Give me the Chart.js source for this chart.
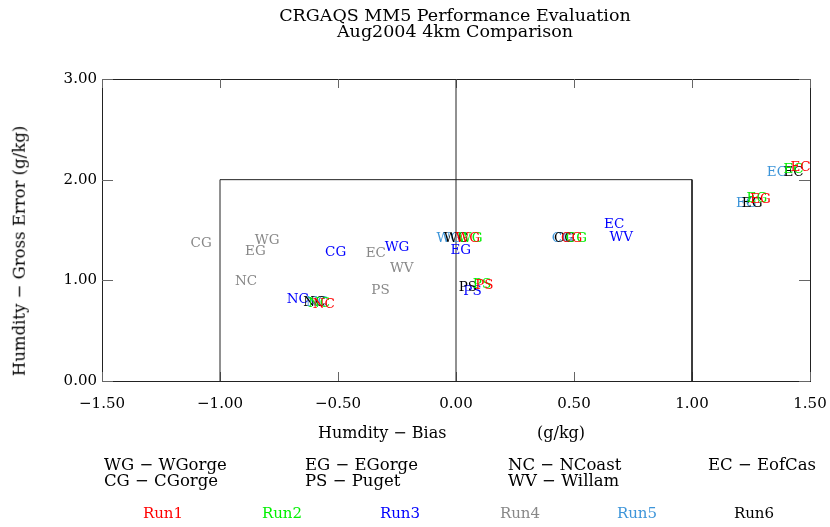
<!DOCTYPE html>
<html>
<head>
<meta charset="utf-8">
<script src="https://cdn.jsdelivr.net/npm/chart.js@4.4.1/dist/chart.umd.min.js"></script>
<style>
body { margin: 0; background: #fff; }
#wrap { position: relative; width: 830px; height: 527px; font-family: "DejaVu Serif", serif; color: #000; }
#chart { position: absolute; left: 0; top: 0; }
.t { position: absolute; white-space: pre; line-height: 1; }
</style>
</head>
<body>
<div id="wrap">
	<canvas id="chart" width="830" height="527"></canvas>
	<div class="t" id="title" style="left:0;width:910px;top:7px;text-align:center;font-size:17.5px;line-height:16px;">CRGAQS MM5 Performance Evaluation
Aug2004 4km Comparison</div>
	<div class="t" style="left:318px;top:425px;font-size:16px;">Humdity − Bias</div>
	<div class="t" style="left:537px;top:425px;font-size:16px;">(g/kg)</div>
	<div class="t" style="left:20px;top:251px;font-size:16.5px;transform:translate(-50%,-50%) rotate(-90deg);">Humdity − Gross Error (g/kg)</div>
	<div id="siteLegend"></div>
	<div id="runLegend"></div>
</div>
<script>
// site abbreviations used as markers
var siteCodes = ["WG", "EG", "NC", "EC", "CG", "PS", "WV"];
var siteNames = ["WGorge", "EGorge", "NCoast", "EofCas", "CGorge", "Puget", "Willam"];

var runNames = ["Run1", "Run2", "Run3", "Run4", "Run5", "Run6"];
var runColors = ["#ff0000", "#00f000", "#0000ff", "#888888", "#3d95d9", "#000000"];

// bias (x) and gross error (y) per run, in g/kg
var run1Sites = ["WG", "NC", "PS", "CG", "EG", "EC"];
var run1Bias  = [0.05, -0.56, 0.12, 0.49, 1.29, 1.46];
var run1Error = [1.42, 0.76, 0.95, 1.42, 1.80, 2.12];

var run2Sites = ["WG", "NC", "PS", "CG", "EG", "EC"];
var run2Bias  = [0.06, -0.58, 0.11, 0.51, 1.275, 1.43];
var run2Error = [1.42, 0.77, 0.96, 1.42, 1.81, 2.10];

var run3Sites = ["CG", "WG", "NC", "EG", "PS", "EC", "WV"];
var run3Bias  = [-0.51, -0.25, -0.67, 0.02, 0.07, 0.67, 0.70];
var run3Error = [1.28, 1.33, 0.81, 1.30, 0.89, 1.55, 1.43];

var run4Sites = ["CG", "WG", "EG", "NC", "EC", "WV", "PS"];
var run4Bias  = [-1.08, -0.80, -0.85, -0.89, -0.34, -0.23, -0.32];
var run4Error = [1.37, 1.40, 1.29, 0.99, 1.27, 1.12, 0.90];

var run5Sites = ["WG", "NC", "CG", "EG", "EC"];
var run5Bias  = [-0.03, -0.59, 0.45, 1.23, 1.36];
var run5Error = [1.42, 0.78, 1.42, 1.76, 2.07];

var run6Sites = ["WG", "NC", "PS", "CG", "EG", "EC"];
var run6Bias  = [0.00, -0.60, 0.05, 0.46, 1.255, 1.43];
var run6Error = [1.42, 0.78, 0.93, 1.42, 1.76, 2.07];

// reference lines: zero bias line and the +-1 / 2 g/kg goal box
var zeroLineX = [0, 0];
var zeroLineY = [0, 3];
var goalBoxX = [-1, -1, 1, 1];
var goalBoxY = [0, 2, 2, 0];

var xTicks = [-1.5, -1.0, -0.5, 0.0, 0.5, 1.0, 1.5];
var yTicks = [0, 1, 2, 3];

function toPoints(xs, ys) {
	var pts = [];
	for (var i = 0; i < xs.length; i++) {
		pts.push({x: xs[i], y: ys[i]});
	}
	return pts;
}

function fmt(v) {
	return v.toFixed(2).replace("-", "\u2212");
}

var allSites = [run1Sites, run2Sites, run3Sites, run4Sites, run5Sites, run6Sites];
var allBias = [run1Bias, run2Bias, run3Bias, run4Bias, run5Bias, run6Bias];
var allError = [run1Error, run2Error, run3Error, run4Error, run5Error, run6Error];

var datasets = [
	{label: "zero", data: toPoints(zeroLineX, zeroLineY), showLine: true, borderColor: "#222", borderWidth: 1, pointRadius: 0, fill: false},
	{label: "goal", data: toPoints(goalBoxX, goalBoxY), showLine: true, borderColor: "#222", borderWidth: 1, pointRadius: 0, fill: false}
];
// draw order: gray and blue underneath, red last (on top)
var drawOrder = [3, 2, 4, 5, 1, 0];
for (var k = 0; k < drawOrder.length; k++) {
	var r = drawOrder[k];
	datasets.push({
		label: runNames[r],
		data: toPoints(allBias[r], allError[r]),
		sites: allSites[r],
		textColor: runColors[r],
		pointRadius: 0,
		pointHoverRadius: 0
	});
}

var siteLabels = {
	id: "siteLabels",
	afterDatasetsDraw: function(chart) {
		var ctx = chart.ctx;
		ctx.save();
		ctx.font = '13.5px "DejaVu Serif"';
		ctx.textAlign = "center";
		ctx.textBaseline = "middle";
		chart.data.datasets.forEach(function(ds, i) {
			if (!ds.sites) return;
			ctx.fillStyle = ds.textColor;
			chart.getDatasetMeta(i).data.forEach(function(pt, j) {
				ctx.fillText(ds.sites[j], pt.x, pt.y);
			});
		});
		ctx.restore();
	}
};

var frame = {
	id: "frame",
	beforeDatasetsDraw: function(chart) {
		var a = chart.chartArea, ctx = chart.ctx;
		var xs = chart.scales.x, ys = chart.scales.y;
		ctx.save();
		ctx.strokeStyle = "#222";
		ctx.lineWidth = 1;
		ctx.strokeRect(a.left + 0.5, a.top + 0.5, a.right - a.left, a.bottom - a.top);
		ctx.strokeStyle = "#666";
		ctx.beginPath();
		xTicks.forEach(function(v) {
			var px = Math.round(xs.getPixelForValue(v)) + 0.5;
			ctx.moveTo(px, a.bottom); ctx.lineTo(px, a.bottom - 9);
			ctx.moveTo(px, a.top); ctx.lineTo(px, a.top + 9);
		});
		yTicks.forEach(function(v) {
			var py = Math.round(ys.getPixelForValue(v)) + 0.5;
			ctx.moveTo(a.left, py); ctx.lineTo(a.left + 11, py);
			ctx.moveTo(a.right, py); ctx.lineTo(a.right - 11, py);
		});
		ctx.stroke();
		ctx.restore();
	}
};

Chart.defaults.font.family = '"DejaVu Serif", serif';
Chart.defaults.color = "#000";

new Chart(document.getElementById("chart").getContext("2d"), {
	type: "scatter",
	data: {datasets: datasets},
	options: {
		responsive: false,
		animation: false,
		layout: {padding: {top: 79, right: 20, left: 0, bottom: 0}},
		plugins: {legend: {display: false}, tooltip: {enabled: false}},
		scales: {
			x: {
				min: -1.5, max: 1.5,
				grid: {display: false},
				border: {display: false},
				ticks: {stepSize: 0.5, font: {size: 15}, padding: 6, maxRotation: 0, callback: fmt},
				afterFit: function(scale) {
					scale.height = 146;
					scale.paddingLeft = 0;
					scale.paddingRight = 0;
				}
			},
			y: {
				min: 0, max: 3,
				grid: {display: false, drawTicks: false},
				border: {display: false},
				ticks: {stepSize: 1, font: {size: 15}, padding: 5, callback: fmt},
				afterFit: function(scale) {
					scale.width = 102;
					scale.paddingTop = 0;
					scale.paddingBottom = 0;
				}
			}
		}
	},
	plugins: [frame, siteLabels]
});

// text legends below the plot
var siteCols = [104, 305, 508, 708];
var html = "";
for (var s = 0; s < siteCodes.length; s++) {
	var col = s % 4, row = Math.floor(s / 4);
	html += "<div class='t' style='left:" + siteCols[col] + "px;top:" + (457 + row * 16) + "px;font-size:16.5px;'>"
		+ siteCodes[s] + " \u2212 " + siteNames[s] + "</div>";
}
document.getElementById("siteLegend").innerHTML = html;

var runCenters = [163, 282, 400, 520, 637, 754];
html = "";
for (var r2 = 0; r2 < runNames.length; r2++) {
	html += "<div class='t' style='left:" + (runCenters[r2] - 40) + "px;width:80px;text-align:center;top:506px;font-size:15px;color:" + runColors[r2] + ";'>"
		+ runNames[r2] + "</div>";
}
document.getElementById("runLegend").innerHTML = html;
</script>
</body>
</html>
